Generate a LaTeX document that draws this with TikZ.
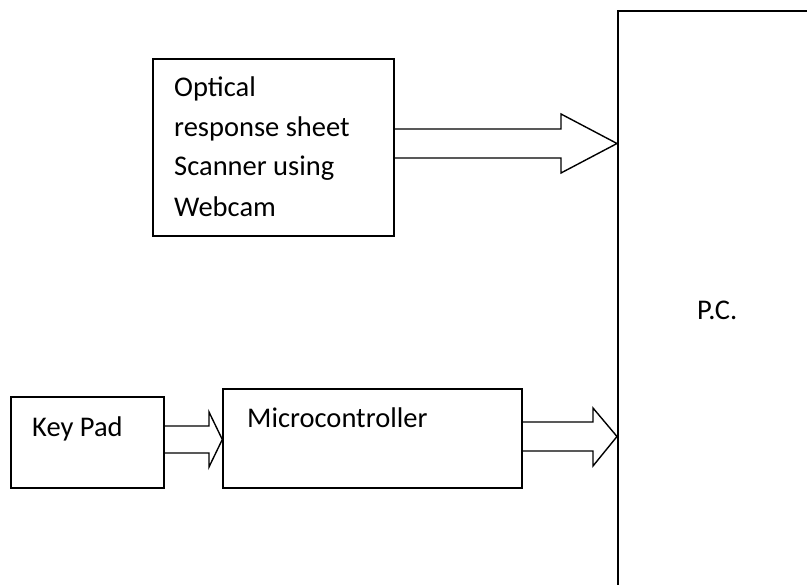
\documentclass[tikz,border=0pt]{standalone}
\usepackage{fontspec}
\setmainfont{Carlito}
\usetikzlibrary{calc}
\tikzset{
  box/.style={draw, line width=1.4pt, inner sep=0pt, rectangle},
  lbl/.style={anchor=base west, inner sep=0pt, font=\fontsize{28.5}{40}\selectfont},
  barrow/.style={draw, line width=1.4pt, line join=miter},
}
\begin{document}
\begin{tikzpicture}[x=1pt,y=-1pt]
\useasboundingbox (0,0) rectangle (807,585);
% boxes
\node[box, minimum width=241pt, minimum height=177pt] (opt) at (273.5,147.5) {};
\node[box, minimum width=153pt, minimum height=91pt] (key) at (87.5,442.5) {};
\node[box, minimum width=299pt, minimum height=99pt] (mcu) at (372.5,438.5) {};
\node[box, line width=1.8pt, anchor=north west, minimum width=400pt, minimum height=700pt] (pc) at (617,10) {};
% texts
\node[lbl] (t1) at (174,97) {Optical};
\node[lbl] (t2) at (174,137) {response sheet};
\node[lbl] (t3) at (174,176) {Scanner using};
\node[lbl] (t4) at (174,217) {Webcam};
\node[lbl] (tk) at (32,437) {Key Pad};
\node[lbl] (tm) at (247,428) {Microcontroller};
\node[lbl] (tp) at (697,320) {P.C.};
% helper levels
\coordinate (a1t) at (0,129);   \coordinate (a1b) at (0,158);
\coordinate (a1ht) at (561,114); \coordinate (a1hb) at (561,173);
\coordinate (a1c) at (0,143.5);
\coordinate (a2t) at (0,426);   \coordinate (a2b) at (0,453);
\coordinate (a2ht) at (209,412); \coordinate (a2hb) at (209,467);
\coordinate (a2c) at (0,439.5);
\coordinate (a3t) at (0,422);   \coordinate (a3b) at (0,451);
\coordinate (a3ht) at (593,408); \coordinate (a3hb) at (593,466);
\coordinate (a3c) at (0,436.5);
% block arrows
\draw[barrow] (opt.east |- a1t) -- (a1ht |- a1t) -- (a1ht) -- (pc.west |- a1c)
  -- (a1hb) -- (a1hb |- a1b) -- (opt.east |- a1b);
\draw[barrow] (key.east |- a2t) -- (a2ht |- a2t) -- (a2ht) -- (mcu.west |- a2c)
  -- (a2hb) -- (a2hb |- a2b) -- (key.east |- a2b);
\draw[barrow] (mcu.east |- a3t) -- (a3ht |- a3t) -- (a3ht) -- (pc.west |- a3c)
  -- (a3hb) -- (a3hb |- a3b) -- (mcu.east |- a3b);
\end{tikzpicture}
\end{document}
